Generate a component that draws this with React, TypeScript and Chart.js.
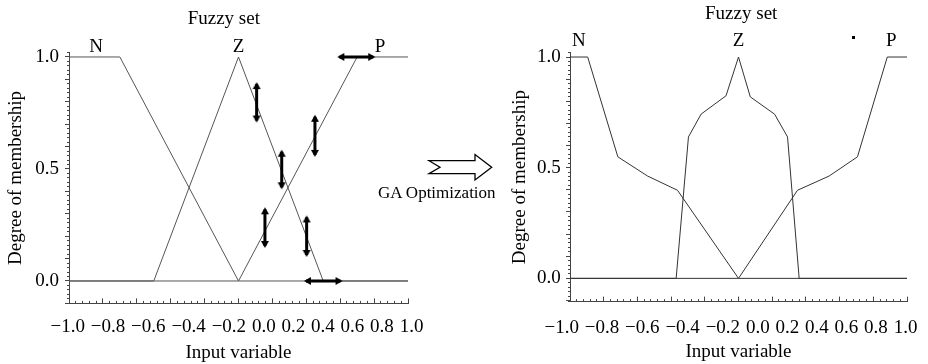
import React, { useEffect, useRef } from 'react';
import { Chart, registerables } from 'chart.js';

Chart.register(...registerables);

// ---------------- data ----------------
const xTickValues = [-1, -0.8, -0.6, -0.4, -0.2, 0, 0.2, 0.4, 0.6, 0.8, 1];
const xTickLabels = ['−1.0', '−0.8', '−0.6', '−0.4', '−0.2', '0.0', '0.2', '0.4', '0.6', '0.8', '1.0'];
const yTickValues = [0, 0.5, 1];
const yTickLabels = ['0.0', '0.5', '1.0'];
const setNames = ['N', 'Z', 'P'];

// initial fuzzy sets (left)
const beforeNX = [-1, -0.7, 0, 1];
const beforeNY = [1, 1, 0, 0];
const beforeZX = [-1, -0.5, 0, 0.5, 1];
const beforeZY = [0, 0, 1, 0, 0];
const beforePX = [-1, 0, 0.7, 1];
const beforePY = [0, 0, 1, 1];
const beforeLabelX = [-0.84, 0, 0.835];
const beforeLabelY = [1.021, 1.021, 1.021];

// tuning arrows (left)
const arrowFromX = [0.595, 0.107, 0.451, 0.255, 0.156, 0.402, 0.398];
const arrowFromY = [1.0, 0.716, 0.5625, 0.418, 0.156, 0.116, 0.0];
const arrowToX = [0.795, 0.107, 0.451, 0.255, 0.156, 0.402, 0.602];
const arrowToY = [1.0, 0.879, 0.733, 0.577, 0.32, 0.284, 0.0];

// optimized fuzzy sets (right)
const afterNX = [-1, -0.895, -0.716, -0.539, -0.362, 0, 1];
const afterNY = [1, 1, 0.549, 0.462, 0.398, 0, 0];
const afterZX = [-1, -0.37, -0.297, -0.222, -0.074, 0, 0.07, 0.214, 0.291, 0.36, 1];
const afterZY = [0, 0, 0.639, 0.742, 0.825, 1, 0.82, 0.742, 0.639, 0, 0];
const afterPX = [-1, 0, 0.35, 0.537, 0.706, 0.883, 1];
const afterPY = [0, 0, 0.398, 0.462, 0.549, 1, 1];
const afterLabelX = [-0.948, 0, 0.906];
const afterLabelY = [1.051, 1.051, 1.051];
const strayDotX = [0.685];
const strayDotY = [1.089];

// ---------------- styling ----------------
const FONT = '"Liberation Serif", "Times New Roman", serif';
const FONT_SIZE = 19;

type Spec = {
  padding: { top: number; left: number; right: number; bottom: number };
  yMin: number;
  yMax: number;
  yAxisWidth: number;
  xAxisHeight: number;
  yTickPad: number;
  yTitlePad: number;
  xTitlePadBottom: number;
  titleX: number;
  titleBaseline: number;
  tickBaselineOffset: number;
  tickLabelShift: number;
  lineColor: string;
  curves: { x: number[]; y: number[] }[];
  labelX: number[];
  labelY: number[];
  arrows: boolean;
  dot: boolean;
};

const leftSpec: Spec = {
  padding: { top: 52.5, left: 0, right: 56, bottom: 0 },
  yMin: -0.1,
  yMax: 1.02,
  yAxisWidth: 69,
  xAxisHeight: 60.6,
  yTickPad: 6,
  yTitlePad: 4.6,
  xTitlePadBottom: 0,
  titleX: 223.8,
  titleBaseline: 24.2,
  tickBaselineOffset: 28.3,
  tickLabelShift: -1.5,
  lineColor: '#555',
  curves: [
    { x: beforeNX, y: beforeNY },
    { x: beforeZX, y: beforeZY },
    { x: beforePX, y: beforePY },
  ],
  labelX: beforeLabelX,
  labelY: beforeLabelY,
  arrows: true,
  dot: false,
};

const rightSpec: Spec = {
  padding: { top: 52.6, left: 0, right: 11, bottom: 0 },
  yMin: -0.105,
  yMax: 1.02,
  yAxisWidth: 106,
  xAxisHeight: 62.4,
  yTickPad: 5.3,
  yTitlePad: 44.6,
  xTitlePadBottom: 0.1,
  titleX: 277.2,
  titleBaseline: 18.6,
  tickBaselineOffset: 31.1,
  tickLabelShift: -7.5,
  lineColor: '#333',
  curves: [
    { x: afterNX, y: afterNY },
    { x: afterZX, y: afterZY },
    { x: afterPX, y: afterPY },
  ],
  labelX: afterLabelX,
  labelY: afterLabelY,
  arrows: false,
  dot: true,
};

function pts(xs: number[], ys: number[]) {
  return xs.map((x, i) => ({ x, y: ys[i] }));
}

function makeHead(): HTMLCanvasElement {
  const c = document.createElement('canvas');
  c.width = 14;
  c.height = 14;
  const g = c.getContext('2d')!;
  g.fillStyle = '#000';
  g.beginPath();
  g.moveTo(7, 5);
  g.lineTo(3, 12);
  g.lineTo(11, 12);
  g.closePath();
  g.fill();
  return c;
}

function makeDot(): HTMLCanvasElement {
  const c = document.createElement('canvas');
  c.width = 3;
  c.height = 3;
  const g = c.getContext('2d')!;
  g.fillStyle = '#000';
  g.fillRect(0, 0, 3, 3);
  return c;
}

function buildConfig(spec: Spec, head: HTMLCanvasElement, dot: HTMLCanvasElement): any {
  const datasets: any[] = [];
  if (spec.arrows) {
    for (let i = 0; i < arrowFromX.length; i++) {
      const vertical = arrowFromX[i] === arrowToX[i];
      datasets.push({
        data: [
          { x: arrowFromX[i], y: arrowFromY[i] },
          { x: arrowToX[i], y: arrowToY[i] },
        ],
        showLine: true,
        borderColor: '#000',
        borderWidth: 3,
        borderCapStyle: 'butt',
        pointStyle: head,
        pointRadius: 4,
        pointRotation: vertical ? [180, 0] : [270, 90],
        order: 1,
        clip: false,
      });
    }
  }
  if (spec.dot) {
    datasets.push({
      data: pts(strayDotX, strayDotY),
      showLine: false,
      pointStyle: dot,
      pointRadius: 20,
      order: 1,
      clip: false,
    });
  }
  spec.curves.forEach((c, i) => {
    datasets.push({
      label: setNames[i],
      data: pts(c.x, c.y),
      showLine: true,
      borderColor: spec.lineColor,
      borderWidth: 1,
      pointRadius: 0,
      tension: 0,
      order: 2,
      clip: false,
    });
  });

  const textPlugin = {
    id: 'panelText',
    afterDraw(chart: any) {
      const { ctx, chartArea, scales } = chart;
      const xs = scales.x;
      const ys = scales.y;
      ctx.save();
      ctx.fillStyle = '#000';
      ctx.font = `${FONT_SIZE}px ${FONT}`;
      ctx.textBaseline = 'alphabetic';
      ctx.textAlign = 'center';
      ctx.fillText('Fuzzy set', spec.titleX, spec.titleBaseline);
      setNames.forEach((n, i) => {
        ctx.fillText(n, xs.getPixelForValue(spec.labelX[i]), ys.getPixelForValue(spec.labelY[i]));
      });
      // x tick labels typeset as one spaced line
      const widths = xTickLabels.map((l) => ctx.measureText(l).width);
      const gap = 5.8;
      const span = widths.reduce((a, b) => a + b, 0) + gap * (widths.length - 1);
      let x = (chartArea.left + chartArea.right) / 2 - span / 2 + spec.tickLabelShift;
      ctx.textAlign = 'left';
      const base = chartArea.bottom + spec.tickBaselineOffset;
      xTickLabels.forEach((l, i) => {
        ctx.fillText(l, x, base);
        x += widths[i] + gap;
      });
      ctx.restore();
    },
  };

  const axisColor = '#444';
  const font = { family: FONT, size: FONT_SIZE };

  return {
    type: 'scatter',
    data: { datasets },
    options: {
      animation: false,
      responsive: false,
      events: [],
      layout: { padding: spec.padding },
      plugins: { legend: { display: false }, tooltip: { enabled: false }, title: { display: false } },
      scales: {
        x: {
          type: 'linear',
          position: 'bottom',
          min: -1,
          max: 1,
          weight: 1,
          afterFit: (s: any) => {
            s.height = spec.xAxisHeight;
          },
          afterBuildTicks: (s: any) => {
            s.ticks = xTickValues.map((v) => ({ value: v }));
          },
          ticks: { display: false },
          grid: { drawOnChartArea: false, drawTicks: true, tickLength: -5, tickColor: axisColor, tickWidth: 1 },
          border: { display: true, color: axisColor, width: 1 },
          title: {
            display: true,
            text: 'Input variable',
            color: '#000',
            font,
            padding: { top: 0, bottom: spec.xTitlePadBottom },
          },
        },
        xMinor: {
          type: 'linear',
          position: 'bottom',
          min: -1,
          max: 1,
          weight: 0,
          afterFit: (s: any) => {
            s.height = 0;
          },
          ticks: { display: false, stepSize: 0.04 },
          grid: { drawOnChartArea: false, drawTicks: true, tickLength: -2.5, tickColor: axisColor, tickWidth: 1 },
          border: { display: false },
        },
        y: {
          type: 'linear',
          position: 'left',
          min: spec.yMin,
          max: spec.yMax,
          weight: 1,
          afterFit: (s: any) => {
            s.width = spec.yAxisWidth;
          },
          ticks: {
            stepSize: 0.1,
            includeBounds: false,
            autoSkip: false,
            color: '#000',
            font,
            padding: spec.yTickPad,
            callback: (v: number) => {
              const i = yTickValues.findIndex((t) => Math.abs(t - v) < 1e-6);
              return i >= 0 ? yTickLabels[i] : '';
            },
          },
          grid: { drawOnChartArea: false, drawTicks: true, tickLength: 4, tickColor: axisColor, tickWidth: 1 },
          border: { display: true, color: axisColor, width: 1 },
          title: {
            display: true,
            text: 'Degree of membership',
            color: '#000',
            font,
            padding: { top: spec.yTitlePad, bottom: 0 },
          },
        },
        yMinor: {
          type: 'linear',
          position: 'left',
          min: spec.yMin,
          max: spec.yMax,
          weight: 0,
          afterFit: (s: any) => {
            s.width = 0;
          },
          ticks: { display: false, stepSize: 0.02 },
          grid: { drawOnChartArea: false, drawTicks: true, tickLength: 2, tickColor: axisColor, tickWidth: 1 },
          border: { display: false },
        },
      },
    },
    plugins: [textPlugin],
  };
}

export default function App() {
  const leftRef = useRef<HTMLCanvasElement>(null);
  const rightRef = useRef<HTMLCanvasElement>(null);

  useEffect(() => {
    const head = makeHead();
    const dot = makeDot();
    const c1 = new Chart(leftRef.current!, buildConfig(leftSpec, head, dot));
    const c2 = new Chart(rightRef.current!, buildConfig(rightSpec, head, dot));
    return () => {
      c1.destroy();
      c2.destroy();
    };
  }, []);

  return (
    <div style={{ position: 'fixed', left: 0, top: 0, width: 928, height: 364, background: '#fff', overflow: 'hidden' }}>
      <canvas ref={leftRef} width={464} height={364} style={{ position: 'absolute', left: 0, top: 0 }} />
      <canvas ref={rightRef} width={464} height={364} style={{ position: 'absolute', left: 464, top: 0 }} />
      <svg width={928} height={364} style={{ position: 'absolute', left: 0, top: 0, pointerEvents: 'none' }}>
        <polygon
          points="429,160.7 475,160.7 475,154.5 491.7,167.3 475,180 475,173.7 429,173.7 440,167.3"
          fill="#fff"
          stroke="#000"
          strokeWidth={1.3}
        />
        <text x={378} y={198} fontFamily={FONT} fontSize={17} fill="#000">
          GA Optimization
        </text>
      </svg>
    </div>
  );
}
